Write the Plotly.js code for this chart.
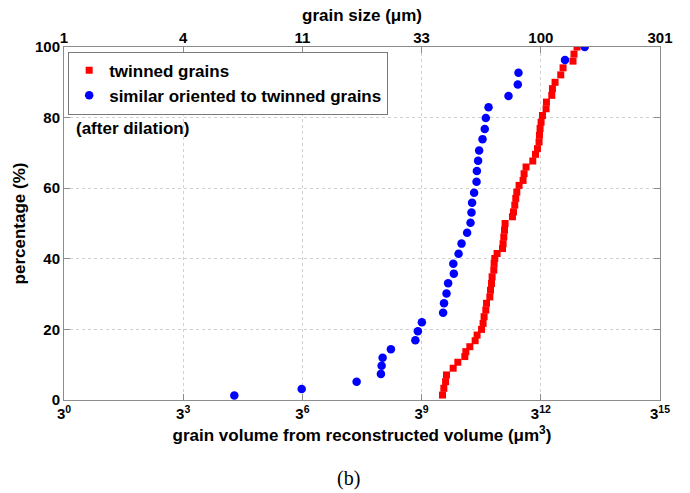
<!DOCTYPE html>
<html>
<head>
<meta charset="utf-8">
<script src="https://cdn.plot.ly/plotly-3.0.1.min.js"></script>
<style>html,body{margin:0;padding:0;background:#fff}#chart{width:690px;height:493px}</style>
</head>
<body>
<div id="chart"></div>
<script>
// grain volume (µm^3) and cumulative percentage (%)
const twinnedVolume = [35100, 36400, 38200, 39200, 47100, 53600, 65000, 66900, 74700, 86500,
  91300, 103200, 107800, 110800, 116200, 118500, 129800, 132300, 136100, 138300,
  144900, 146200, 148900, 158700, 184300, 187400, 191100, 194700, 197900, 242800,
  249900, 258800, 266000, 273700, 291400, 325600, 334700, 353600, 425700, 458700,
  484600, 506300, 512000, 521000, 535500, 556500, 615000, 621100, 719600, 733200,
  788300, 922500, 983200, 1295000, 1331000, 1447000];
const twinnedPct = [1.4, 3.3, 5.2, 7.1, 9.0, 10.7, 12.3, 13.7, 15.1, 16.8,
  18.4, 20.0, 21.7, 23.6, 25.5, 27.4, 29.2, 31.1, 33.0, 34.9,
  36.8, 38.7, 40.1, 41.5, 42.9, 44.3, 46.2, 48.1, 50.0, 51.9,
  53.3, 55.2, 57.1, 58.9, 60.8, 62.2, 64.1, 66.0, 67.7, 69.6,
  71.2, 73.1, 75.0, 76.9, 78.7, 80.6, 82.5, 84.4, 86.3, 88.2,
  90.0, 92.1, 94.1, 96.0, 98.0, 100];

const similarVolume = [111, 715, 3265, 6390, 6520, 6700, 8420, 16560, 17750, 19830,
  35700, 36600, 39200, 41000, 48000, 47300, 54700, 59400, 69300, 76100,
  78200, 79500, 84100, 89900, 90700, 93900, 96600, 106100, 112900, 116200,
  125300, 217500, 281300, 286700, 1038000, 1789000];
const similarPct = [1.3, 3.1, 5.2, 7.4, 9.7, 12.0, 14.4, 16.9, 19.5, 22.0,
  24.7, 27.4, 30.2, 33.1, 35.8, 38.6, 41.4, 44.3, 47.4, 50.2,
  53.1, 55.9, 58.7, 61.8, 64.9, 67.8, 70.7, 73.9, 76.8, 79.9,
  82.9, 86.1, 89.4, 92.7, 96.3, 100];

const volumeTicks = [1, 27, 729, 19683, 531441, 14348907];
const volumeTickText = ['3<sup>0</sup>', '3<sup>3</sup>', '3<sup>6</sup>', '3<sup>9</sup>', '3<sup>12</sup>', '3<sup>15</sup>'];
const grainSizeTickText = ['1', '4', '11', '33', '100', '301'];
const pctTicks = [0, 20, 40, 60, 80, 100];

const F = 'Liberation Sans, Arial, sans-serif';
const logRange = [0, 15 * Math.log10(3)];

const traces = [
  {x: twinnedVolume, y: twinnedPct, type: 'scatter', mode: 'markers', name: 'twinned grains',
   marker: {symbol: 'square', color: '#ff0000', size: 7}},
  {x: similarVolume, y: similarPct, type: 'scatter', mode: 'markers', name: 'similar oriented to twinned grains',
   marker: {symbol: 'circle', color: '#0000ff', size: 8.5}},
  {x: [], y: [], xaxis: 'x2', type: 'scatter', mode: 'markers', showlegend: false, hoverinfo: 'skip'}
];

const axisCommon = {
  showline: true, linecolor: '#8c8c8c', linewidth: 1,
  ticks: 'inside', ticklen: 6, tickcolor: '#8c8c8c',
  gridcolor: '#d0d0d0', griddash: 'dot', zeroline: false,
  tickfont: {family: F, size: 15, color: '#000', weight: 'bold'}
};
const titleFont = {family: F, size: 17, color: '#000', weight: 'bold'};

const layout = {
  width: 690, height: 493,
  margin: {l: 64, r: 30, t: 47, b: 93, pad: 0},
  paper_bgcolor: '#fff', plot_bgcolor: '#fff',
  showlegend: true,
  legend: {x: 0.007, y: 0.987, xanchor: 'left', yanchor: 'top',
    bgcolor: '#fff', bordercolor: '#7a7a7a', borderwidth: 1,
    font: {family: F, size: 17, color: '#000', weight: 'bold'}, tracegroupgap: 0},
  xaxis: Object.assign({}, axisCommon, {
    type: 'log', range: logRange, mirror: 'ticks',
    tickmode: 'array', tickvals: volumeTicks, ticktext: volumeTickText,
    title: {text: 'grain volume from reconstructed volume (μm<sup>3</sup>)', standoff: 8, font: titleFont}
  }),
  xaxis2: Object.assign({}, axisCommon, {
    type: 'log', range: logRange, overlaying: 'x', side: 'top', anchor: 'y',
    showgrid: false, showline: false,
    tickmode: 'array', tickvals: volumeTicks, ticktext: grainSizeTickText,
    title: {text: 'grain size (μm)', standoff: 3, font: titleFont}
  }),
  yaxis: Object.assign({}, axisCommon, {
    range: [0, 100], mirror: 'ticks',
    tickmode: 'array', tickvals: pctTicks,
    title: {text: 'percentage (%)', standoff: 5, font: titleFont}
  }),
  annotations: [
    {text: '(after dilation)', xref: 'paper', yref: 'paper', x: 0.016, y: 0.77,
     xanchor: 'left', yanchor: 'middle', showarrow: false,
     font: {family: F, size: 17, color: '#000', weight: 'bold'}},
    {text: '(b)', xref: 'paper', yref: 'paper', x: 0.478, y: -0.221,
     xanchor: 'center', yanchor: 'middle', showarrow: false,
     font: {family: 'Liberation Serif, DejaVu Serif, serif', size: 20, color: '#000'}}
  ]
};

Plotly.newPlot('chart', traces, layout, {displayModeBar: false, staticPlot: true});
</script>
</body>
</html>
